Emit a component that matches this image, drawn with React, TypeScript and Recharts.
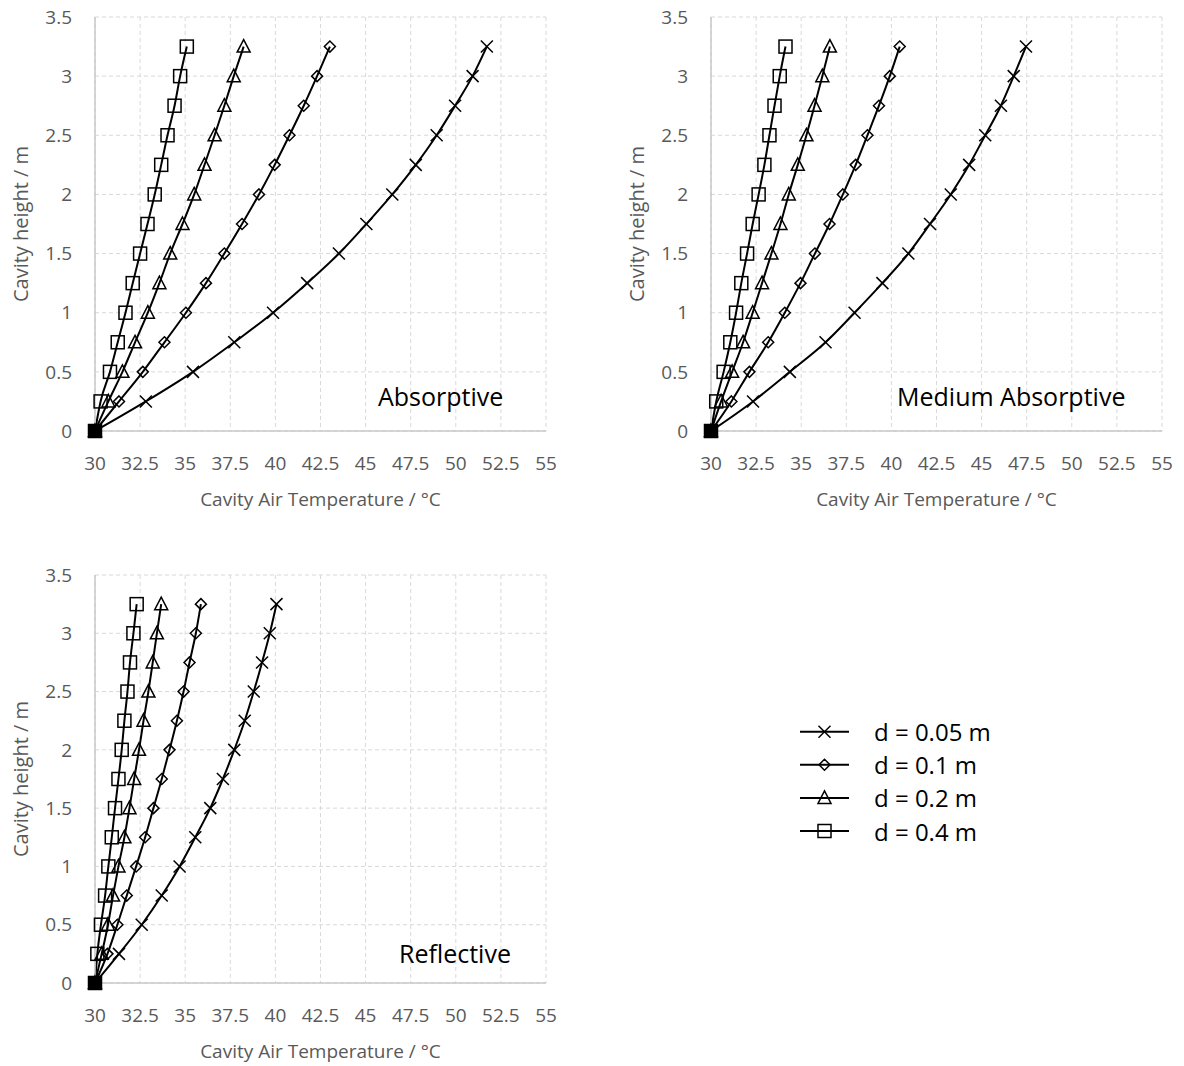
import React from 'react';
import { LineChart, Line, XAxis, YAxis, CartesianGrid } from 'recharts';

const heights = [0, 0.25, 0.5, 0.75, 1, 1.25, 1.5, 1.75, 2, 2.25, 2.5, 2.75, 3, 3.25];
const xTicks = [30, 32.5, 35, 37.5, 40, 42.5, 45, 47.5, 50, 52.5, 55];
const yTicks = [0, 0.5, 1, 1.5, 2, 2.5, 3, 3.5];
const seriesNames = ['d = 0.05 m', 'd = 0.1 m', 'd = 0.2 m', 'd = 0.4 m'];
const markerKinds = ['cross', 'diamond', 'triangle', 'square'];

// Absorptive
const absCross = [30, 32.82, 35.43, 37.72, 39.87, 41.76, 43.52, 45.04, 46.48, 47.78, 48.94, 49.96, 50.93, 51.72];
const absDiamond = [30, 31.33, 32.65, 33.85, 35.04, 36.15, 37.17, 38.15, 39.09, 39.96, 40.78, 41.57, 42.31, 43.02];
const absTriangle = [30, 30.74, 31.52, 32.22, 32.93, 33.57, 34.17, 34.85, 35.5, 36.07, 36.63, 37.17, 37.69, 38.24];
const absSquare = [30, 30.31, 30.83, 31.26, 31.69, 32.09, 32.5, 32.91, 33.31, 33.67, 34.02, 34.41, 34.72, 35.09];

// Medium Absorptive
const medCross = [30, 32.33, 34.37, 36.35, 37.96, 39.5, 40.94, 42.14, 43.29, 44.31, 45.2, 46.07, 46.78, 47.46];
const medDiamond = [30, 31.13, 32.13, 33.17, 34.09, 34.96, 35.76, 36.57, 37.31, 38.02, 38.67, 39.31, 39.91, 40.46];
const medTriangle = [30, 30.56, 31.17, 31.78, 32.31, 32.83, 33.35, 33.85, 34.31, 34.81, 35.29, 35.74, 36.17, 36.59];
const medSquare = [30, 30.29, 30.7, 31.07, 31.39, 31.68, 32.0, 32.31, 32.64, 32.96, 33.24, 33.52, 33.81, 34.13];

// Reflective
const refCross = [30, 31.33, 32.59, 33.7, 34.69, 35.56, 36.39, 37.09, 37.72, 38.3, 38.8, 39.26, 39.69, 40.06];
const refDiamond = [30, 30.69, 31.24, 31.76, 32.28, 32.78, 33.24, 33.7, 34.13, 34.54, 34.91, 35.24, 35.59, 35.87];
const refTriangle = [30, 30.37, 30.72, 31.0, 31.3, 31.63, 31.91, 32.17, 32.44, 32.69, 32.96, 33.2, 33.43, 33.67];
const refSquare = [30, 30.13, 30.33, 30.56, 30.74, 30.93, 31.11, 31.3, 31.48, 31.63, 31.8, 31.94, 32.13, 32.31];

const FONT = '"Open Sans", sans-serif';
const GRAY = '#595959';

function MarkerShape({ kind, cx, cy, filled }: { kind: string; cx: number; cy: number; filled?: boolean }) {
  const sw = 1.5;
  const fill = filled ? '#000' : 'none';
  if (kind === 'cross') {
    const r = 6;
    return (
      <g stroke="#000" strokeWidth={sw}>
        <line x1={cx - r} y1={cy - r} x2={cx + r} y2={cy + r} />
        <line x1={cx - r} y1={cy + r} x2={cx + r} y2={cy - r} />
      </g>
    );
  }
  if (kind === 'diamond') {
    const r = 5.5;
    return (
      <polygon
        points={`${cx},${cy - r} ${cx + r},${cy} ${cx},${cy + r} ${cx - r},${cy}`}
        fill={fill}
        stroke="#000"
        strokeWidth={sw}
      />
    );
  }
  if (kind === 'triangle') {
    return (
      <polygon
        points={`${cx},${cy - 7} ${cx + 6.5},${cy + 5.5} ${cx - 6.5},${cy + 5.5}`}
        fill={fill}
        stroke="#000"
        strokeWidth={sw}
      />
    );
  }
  return <rect x={cx - 6.5} y={cy - 6.5} width={13} height={13} fill={fill} stroke="#000" strokeWidth={sw} />;
}

function makeDot(kind: string) {
  return (props: any) => {
    const { cx, cy, index, payload } = props;
    if (cx == null || cy == null) return <g key={`e-${index}`} />;
    return (
      <g key={`${kind}-${index}`}>
        <MarkerShape kind={kind} cx={cx} cy={cy} filled={payload && payload.h === 0} />
      </g>
    );
  };
}

function build(temps: number[]) {
  return heights.map((h, i) => ({ t: temps[i], h }));
}

function Panel({ series, height, plotTop }: { series: number[][]; height: number; plotTop: number }) {
  return (
    <LineChart width={580} height={height} margin={{ top: plotTop, right: 34, bottom: 0, left: 0 }}>
      <CartesianGrid stroke="#d9d9d9" strokeDasharray="4 3" />
      <XAxis
        type="number"
        dataKey="t"
        domain={[30, 55]}
        ticks={xTicks}
        allowDuplicatedCategory={false}
        height={80}
        tickLine={false}
        tickSize={6}
        tickMargin={20}
        axisLine={{ stroke: '#c9c9c9', strokeWidth: 1.5 }}
        tick={{ fill: GRAY, fontSize: 19, fontFamily: FONT }}
        label={{
          value: 'Cavity Air Temperature / °C',
          position: 'insideBottom',
          offset: 5,
          style: { fill: GRAY, fontSize: 19, fontFamily: FONT },
        }}
      />
      <YAxis
        type="number"
        dataKey="h"
        domain={[0, 3.5]}
        ticks={yTicks}
        width={95}
        tickLine={false}
        tickSize={6}
        tickMargin={17}
        axisLine={{ stroke: '#c9c9c9', strokeWidth: 1.5 }}
        tick={{ fill: GRAY, fontSize: 19, fontFamily: FONT }}
        label={{
          value: 'Cavity height / m',
          angle: -90,
          position: 'insideLeft',
          offset: 21,
          style: { fill: GRAY, fontSize: 20, fontFamily: FONT, textAnchor: 'middle' },
        }}
      />
      {series.map((s, i) => (
        <Line
          key={seriesNames[i]}
          name={seriesNames[i]}
          data={build(s)}
          dataKey="h"
          type="monotone"
          stroke="#000"
          strokeWidth={2}
          dot={makeDot(markerKinds[i])}
          activeDot={false}
          isAnimationActive={false}
        />
      ))}
    </LineChart>
  );
}

export default function App() {
  return (
    <div style={{ position: 'absolute', left: 0, top: 0, width: 1184, height: 1066, background: '#fff' }}>
      <div style={{ position: 'absolute', left: 0, top: 0 }}>
        <Panel series={[absCross, absDiamond, absTriangle, absSquare]} height={511} plotTop={17} />
      </div>
      <div style={{ position: 'absolute', left: 616, top: 0 }}>
        <Panel series={[medCross, medDiamond, medTriangle, medSquare]} height={511} plotTop={17} />
      </div>
      <div style={{ position: 'absolute', left: 0, top: 558 }}>
        <Panel series={[refCross, refDiamond, refTriangle, refSquare]} height={505} plotTop={17} />
      </div>
      <svg
        width={1184}
        height={1066}
        style={{ position: 'absolute', left: 0, top: 0, pointerEvents: 'none' }}
      >
        <g fontFamily={FONT} fontSize={25} fill="#000">
          <text x={378} y={406}>Absorptive</text>
          <text x={897} y={406}>Medium Absorptive</text>
          <text x={399} y={963}>Reflective</text>
        </g>
        {seriesNames.map((n, i) => {
          const y = 731.7 + i * 33.1;
          return (
            <g key={n}>
              <line x1={800} y1={y} x2={849} y2={y} stroke="#000" strokeWidth={2} />
              <MarkerShape kind={markerKinds[i]} cx={824.5} cy={y} />
              <text x={874} y={y} dominantBaseline="central" fontFamily={FONT} fontSize={24} fill="#000">
                {n}
              </text>
            </g>
          );
        })}
      </svg>
    </div>
  );
}
